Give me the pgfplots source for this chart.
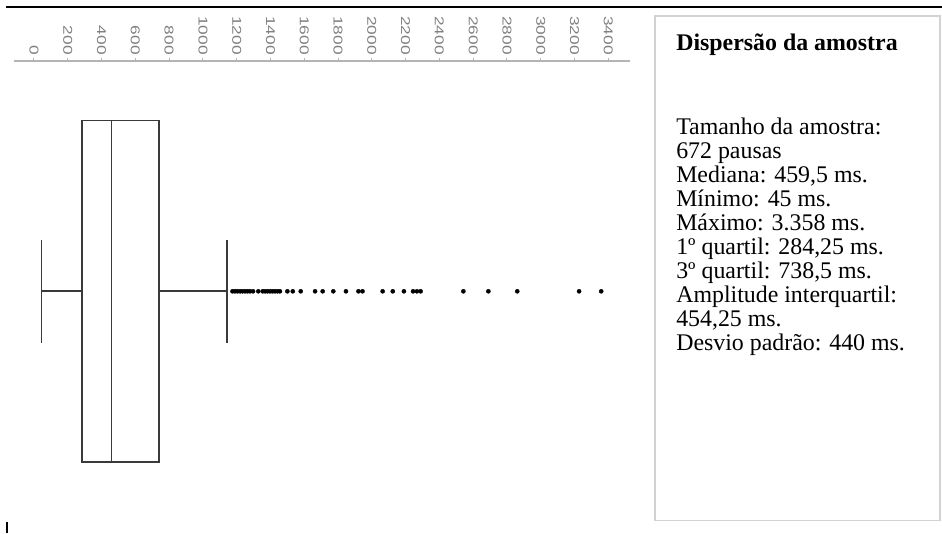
\documentclass[border=0pt]{standalone}
\usepackage{fontspec}
\setmainfont{Liberation Serif}
\newfontfamily\tickfont{Liberation Sans}
\usepackage{pgfplots}
\pgfplotsset{compat=1.18}
\usepgfplotslibrary{statistics}
\definecolor{boxline}{HTML}{3A3A3A}
\definecolor{axisgray}{HTML}{B4B4B4}
\definecolor{ticktext}{HTML}{808080}
\definecolor{panelborder}{HTML}{D2D2D2}
% outlying pause durations (ms)
\pgfplotstableread[row sep=\\]{
v\\ 1175\\ 1190\\ 1205\\ 1220\\ 1234\\ 1249\\ 1264\\ 1279\\ 1297\\ 1328\\
1354\\ 1368\\ 1382\\ 1397\\ 1412\\ 1427\\ 1442\\ 1456\\ 1500\\ 1532\\
1579\\ 1664\\ 1709\\ 1772\\ 1847\\ 1921\\ 1945\\ 2064\\ 2124\\ 2190\\
2244\\ 2267\\ 2289\\ 2542\\ 2690\\ 2861\\ 3227\\ 3358\\
}\outliers
\begin{document}
\begin{tikzpicture}[x=0.75pt,y=0.75pt]
\useasboundingbox (0,0) rectangle (942,533);
\begin{axis}[
  at={(10.5pt,0pt)}, anchor=south west,
  scale only axis, width=462pt, height=354pt,
  xmin=-118.4, xmax=3528.5, ymin=0, ymax=472,
  axis x line=top, axis y line=none,
  axis line style={draw=axisgray, line width=0.9pt, -},
  xtick={0,200,...,3400},
  tick align=outside, major tick length=2.25pt,
  x tick style={draw=axisgray, line width=0.75pt},
  xticklabel shift=2.25pt,
  xticklabel style={rotate=-90, xscale=1.35, anchor=east, inner sep=0pt,
    font=\tickfont\fontsize{9.6pt}{10pt}\selectfont, text=ticktext},
  /pgf/number format/assume math mode=true,
  /pgf/number format/1000 sep={},
  scaled x ticks=false,
  clip=false,
]
\addplot[
  boxplot prepared={lower whisker=45, lower quartile=284.25, median=459.5,
    upper quartile=738.5, upper whisker=1141, draw position=241.7,
    box extend=341.5, whisker extend=102.7},
  boxplot/draw direction=x,
  draw=boxline, line width=1.2pt, solid,
  mark=*, mark size=1.55pt, mark options={fill=black, draw=black, line width=0.3pt},
] table[y index=0] {\outliers};
\end{axis}
% rules framing the chart
\draw[black, line width=1.5pt] (6,525.5) -- (942,525.5);
\draw[black, line width=1.1pt] (7,0) -- (7,11);
% summary panel
\draw[panelborder, line width=1.1pt] (655,12.3) rectangle (940,517);
\begin{scope}[every node/.style={anchor=base west, inner sep=0pt,
    font=\fontsize{17.9pt}{18pt}\selectfont}]
\node[font=\bfseries\fontsize{17.9pt}{18pt}\selectfont] at (676,482.3) {Dispersão da amostra};
\node at (676,398.5) {Tamanho da amostra:};
\node at (676,374.5) {672 pausas};
\node at (676,350.5) {Mediana: 459,5 ms.};
\node at (676,326.5) {Mínimo: 45 ms.};
\node at (676,302.5) {Máximo: 3.358 ms.};
\node at (676,278.5) {1º quartil: 284,25 ms.};
\node at (676,254.5) {3º quartil: 738,5 ms.};
\node at (676,230.5) {Amplitude interquartil:};
\node at (676,206.5) {454,25 ms.};
\node at (676,182.5) {Desvio padrão: 440 ms.};
\end{scope}
\end{tikzpicture}
\end{document}
